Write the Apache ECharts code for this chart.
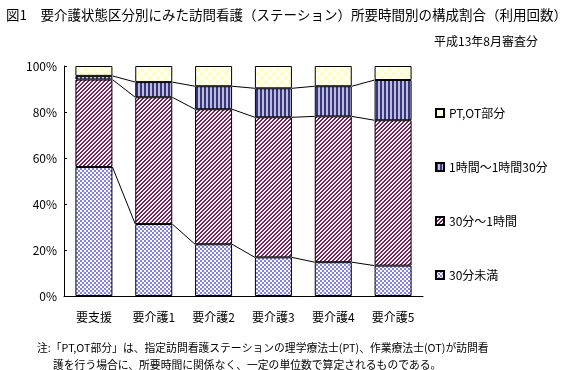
<!DOCTYPE html>
<html>
<head>
<meta charset="utf-8">
<script src="https://cdn.jsdelivr.net/npm/echarts@6/dist/echarts.min.js"></script>
<style>html,body{margin:0;padding:0;background:#fff;}#c{width:576px;height:370px;}</style>
</head>
<body>
<div id="c"></div>
<script>
// ---- data ----
const categories = ['要支援', '要介護1', '要介護2', '要介護3', '要介護4', '要介護5'];
const under30 = [56.1, 31.3, 22.5, 16.8, 14.7, 13.2];      // 30分未満
const m30to60 = [38.0, 55.1, 58.7, 60.9, 63.4, 63.2];      // 30分～1時間
const h1to90 = [1.6, 6.6, 10.0, 12.6, 13.1, 17.5];         // 1時間～1時間30分
const ptot = [4.3, 7.0, 8.8, 9.7, 8.8, 6.1];               // PT,OT部分
const seriesNames = ['30分未満', '30分～1時間', '1時間～1時間30分', 'PT,OT部分'];
const yTicks = [0, 20, 40, 60, 80, 100];
const titleText = '図1　要介護状態区分別にみた訪問看護（ステーション）所要時間別の構成割合（利用回数）';
const subtitleText = '平成13年8月審査分';
const note1 = '注:「PT,OT部分」は、指定訪問看護ステーションの理学療法士(PT)、作業療法士(OT)が訪問看';
const note2 = '護を行う場合に、所要時間に関係なく、一定の単位数で算定されるものである。';

// ---- patterns ----
function makePattern(w, h, fn) {
  const c = document.createElement('canvas');
  c.width = w; c.height = h;
  const ctx = c.getContext('2d');
  for (let y = 0; y < h; y++) for (let x = 0; x < w; x++) {
    ctx.fillStyle = fn(x, y);
    ctx.fillRect(x, y, 1, 1);
  }
  return { image: c, repeat: 'repeat' };
}
const patBlue = makePattern(4, 4, (x, y) => ((Math.floor(x / 2) + Math.floor(y / 2)) % 2 === 0) ? '#7f7fff' : '#ffffff');
const patMaroon = makePattern(4, 4, (x, y) => ((x + y) % 4 < 2) ? '#7f1f5f' : '#ffffff');
const patNavy = makePattern(4, 1, (x) => (x < 2) ? '#333399' : '#c0c0c0');
const patYellow = makePattern(8, 8, (x, y) => ((Math.floor(x / 4) + Math.floor(y / 4)) % 2 === 0) ? '#ffffc0' : '#ffffff');

const FONT = 'Noto Sans CJK JP';
const BAR_W = 37;

// cumulative boundaries for series lines
const cum1 = under30.map((v, i) => v);
const cum2 = under30.map((v, i) => v + m30to60[i]);
const cum3 = under30.map((v, i) => v + m30to60[i] + h1to90[i]);
const boundaries = [cum1, cum2, cum3];

const chart = echarts.init(document.getElementById('c'), null, { renderer: 'canvas' });

function barSeries(name, data, color) {
  return {
    name: name, type: 'bar', stack: 'total', data: data, barWidth: BAR_W,
    itemStyle: { color: color, borderColor: '#000', borderWidth: 1 },
    emphasis: { disabled: true }
  };
}

chart.setOption({
  animation: false,
  textStyle: { fontFamily: FONT },
  title: [
    { text: titleText, left: 1, top: 3, textStyle: { fontFamily: FONT, fontSize: 13.5, fontWeight: 'normal', color: '#000' } },
    { text: subtitleText, right: 33, top: 30, textStyle: { fontFamily: FONT, fontSize: 12, fontWeight: 'normal', color: '#000' } },
    { text: note1, left: 32, top: 338, textStyle: { fontFamily: FONT, fontSize: 10.8, fontWeight: 'normal', color: '#000' } },
    { text: note2, left: 48, top: 355, textStyle: { fontFamily: FONT, fontSize: 10.8, fontWeight: 'normal', color: '#000' } }
  ],
  grid: { left: 64, right: 153, top: 66, bottom: 74, containLabel: false },
  legend: {
    orient: 'vertical', left: 430, top: 102, itemWidth: 8, itemHeight: 8, itemGap: 42,
    icon: 'rect',
    data: ['PT,OT部分', '1時間～1時間30分', '30分～1時間', '30分未満'],
    textStyle: { fontFamily: FONT, fontSize: 12, color: '#000' },
    selectedMode: false
  },
  xAxis: {
    type: 'category', data: categories,
    axisLine: { lineStyle: { color: '#000', width: 1 } },
    axisTick: { inside: true, length: 3, lineStyle: { color: '#000' } },
    axisLabel: { color: '#000', fontSize: 12, margin: 15, fontFamily: FONT },
    splitLine: { show: false }
  },
  yAxis: {
    type: 'value', min: 0, max: 100, interval: 20,
    axisLine: { show: true, lineStyle: { color: '#000', width: 1 } },
    axisTick: { show: true, inside: true, length: 3, lineStyle: { color: '#000' } },
    axisLabel: { color: '#000', fontSize: 12, margin: 7, fontFamily: FONT, formatter: v => v + '%' },
    splitLine: { show: false }
  },
  series: [
    barSeries(seriesNames[0], under30, patBlue),
    barSeries(seriesNames[1], m30to60, patMaroon),
    barSeries(seriesNames[2], h1to90, patNavy),
    barSeries(seriesNames[3], ptot, patYellow),
    {
      type: 'custom', silent: true, z: 1,
      data: categories.map((c, i) => [i, 0]),
      encode: { x: 0, y: 1 },
      renderItem: function (params, api) {
        const i = params.dataIndex;
        if (i >= categories.length - 1) return { type: 'group', children: [] };
        const half = BAR_W / 2;
        const children = boundaries.map(b => {
          const p1 = api.coord([i, b[i]]);
          const p2 = api.coord([i + 1, b[i + 1]]);
          return { type: 'line', shape: { x1: p1[0] + half, y1: p1[1], x2: p2[0] - half, y2: p2[1] }, style: { stroke: '#000', lineWidth: 1 } };
        });
        return { type: 'group', children: children };
      }
    }
  ]
});
</script>
</body>
</html>
